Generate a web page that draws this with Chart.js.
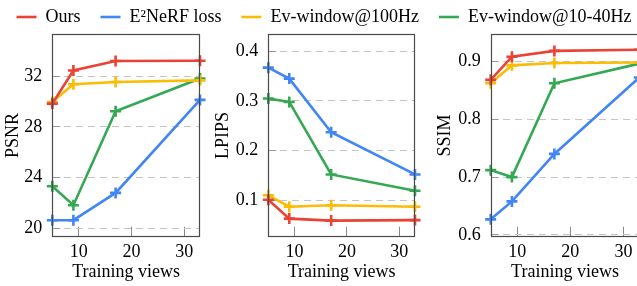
<!DOCTYPE html>
<html><head><meta charset="utf-8">
<script src="https://cdn.jsdelivr.net/npm/chart.js@4/dist/chart.umd.min.js"></script>
<style>
html,body{margin:0;padding:0;background:#fff;overflow:hidden;width:637px;height:286px;position:relative}
.c{position:absolute}
</style></head><body>
<div class="c" style="left:0;top:26px;width:210px;height:260px"><canvas id="c1"></canvas></div>
<div class="c" style="left:210px;top:26px;width:220px;height:260px"><canvas id="c2"></canvas></div>
<div class="c" style="left:432px;top:26px;width:220px;height:260px"><canvas id="c3"></canvas></div>
<div class="c" style="left:-6.5px;top:-12px;width:660px;height:100px;pointer-events:none"><canvas id="cl"></canvas></div>
<script>
// ---- data ----
const views = [5, 9, 17, 33];
const seriesNames = ['Ours', 'E\u00B2NeRF loss', 'Ev-window@100Hz', 'Ev-window@10-40Hz'];
const seriesColors = ['#ea4335', '#4285f4', '#fbbc05', '#34a853'];

const psnrOurs   = [29.83, 32.44, 33.18, 33.20];
const psnrE2     = [20.65, 20.65, 22.80, 30.12];
const psnr100    = [29.96, 31.35, 31.53, 31.66];
const psnr1040   = [23.32, 21.83, 29.23, 31.80];

const lpipsOurs  = [0.101, 0.063, 0.059, 0.060];
const lpipsE2    = [0.367, 0.345, 0.237, 0.152];
const lpips100   = [0.110, 0.087, 0.090, 0.087];
const lpips1040  = [0.305, 0.298, 0.152, 0.119];

const ssimOurs   = [0.868, 0.908, 0.918, 0.920];
const ssimE2     = [0.627, 0.658, 0.740, 0.872];
const ssim100    = [0.862, 0.893, 0.897, 0.898];
const ssim1040   = [0.712, 0.700, 0.862, 0.896];

const viewTicks  = [10, 20, 30];
const psnrTicks  = [20, 24, 28, 32];
const lpipsTicks = [0.1, 0.2, 0.3, 0.4];
const ssimTicks  = [0.6, 0.7, 0.8, 0.9];

// ---- rendering ----
Chart.defaults.font.family = "'Liberation Serif', 'Times New Roman', serif";
Chart.defaults.color = '#000';

const framePlugin = {
  id: 'frame',
  afterDraw(chart) {
    const a = chart.chartArea, ctx = chart.ctx;
    ctx.save();
    ctx.strokeStyle = '#4a4a4a';
    ctx.lineWidth = 1.2;
    const l = Math.round(a.left) + 0.5, t = Math.round(a.top) + 0.5;
    const r = Math.round(a.right) - 0.5, b = Math.round(a.bottom) - 0.5;
    ctx.strokeRect(l, t, r - l, b - t);
    ctx.restore();
  }
};

function ds(i, vals) {
  return {
    label: seriesNames[i],
    data: views.map((x, k) => ({x: x, y: vals[k]})),
    borderColor: seriesColors[i],
    backgroundColor: seriesColors[i],
    borderWidth: 2.6,
    pointStyle: 'cross',
    pointRadius: 5.5,
    pointBorderWidth: 2.6,
    pointBackgroundColor: seriesColors[i],
    pointBorderColor: seriesColors[i],
    tension: 0,
    clip: false
  };
}

function zeroPad(s) { s.paddingTop = 0; s.paddingBottom = 0; s.paddingLeft = 0; s.paddingRight = 0; }

function makeChart(id, title, sets, yTicks, ymin, ymax, yw, padR) {
  new Chart(document.getElementById(id), {
    type: 'line',
    data: {datasets: sets},
    options: {
      animation: false, responsive: true, maintainAspectRatio: false, devicePixelRatio: 1,
      layout: {padding: {top: 7, right: padR, left: 0, bottom: 0}},
      plugins: {legend: {display: false}, tooltip: {enabled: false}},
      scales: {
        x: {
          type: 'linear', min: 5, max: 33,
          afterBuildTicks: s => { s.ticks = viewTicks.map(v => ({value: v})); },
          afterFit: s => { s.height = 49.3; zeroPad(s); },
          grid: {drawOnChartArea: false, drawTicks: true, tickLength: -10, tickColor: '#8a8a8a', tickWidth: 1},
          border: {display: false},
          ticks: {padding: 15, font: {size: 18}, maxRotation: 0, autoSkip: false, color: '#000'},
          title: {display: true, text: 'Training views', font: {size: 18}, padding: {top: 0, bottom: 3}, color: '#000'}
        },
        y: {
          type: 'linear', min: ymin, max: ymax,
          afterBuildTicks: s => { s.ticks = yTicks.map(v => ({value: v})); },
          afterFit: s => { s.width = yw; zeroPad(s); },
          grid: {color: '#c4c4c4', lineWidth: 1, drawTicks: true, tickLength: -8, tickColor: '#999', tickBorderDash: []},
          border: {display: false, dash: [7, 5]},
          ticks: {padding: 18, font: {size: 18}, color: '#000', callback: v => String(v)},
          title: {display: true, text: title, font: {size: 18}, padding: {top: 2, bottom: 0}, color: '#000'}
        }
      }
    },
    plugins: [framePlugin]
  });
}

makeChart('c1', 'PSNR', [ds(0, psnrOurs), ds(1, psnrE2), ds(2, psnr100), ds(3, psnr1040)], psnrTicks, 19.35, 35.3, 52.3, 10);
makeChart('c2', 'LPIPS', [ds(0, lpipsOurs), ds(1, lpipsE2), ds(2, lpips100), ds(3, lpips1040)], lpipsTicks, 0.0266, 0.4346, 58.3, 15);
makeChart('c3', 'SSIM', [ds(0, ssimOurs), ds(1, ssimE2), ds(2, ssim100), ds(3, ssim1040)], ssimTicks, 0.597, 0.947, 58.7, 12.7);

// legend-only chart
new Chart(document.getElementById('cl'), {
  type: 'line',
  data: {datasets: seriesNames.map((n, i) => ({label: n, data: [], borderColor: seriesColors[i], backgroundColor: seriesColors[i], borderWidth: 2.6}))},
  options: {
    animation: false, responsive: true, maintainAspectRatio: false, devicePixelRatio: 1,
    events: [],
    layout: {padding: 0},
    scales: {x: {display: false}, y: {display: false}},
    plugins: {
      tooltip: {enabled: false},
      legend: {
        display: true, position: 'top',
        labels: {usePointStyle: true, pointStyle: 'line', pointStyleWidth: 20, font: {size: 18}, color: '#000', padding: 20}
      }
    }
  }
});
</script>
</body></html>
